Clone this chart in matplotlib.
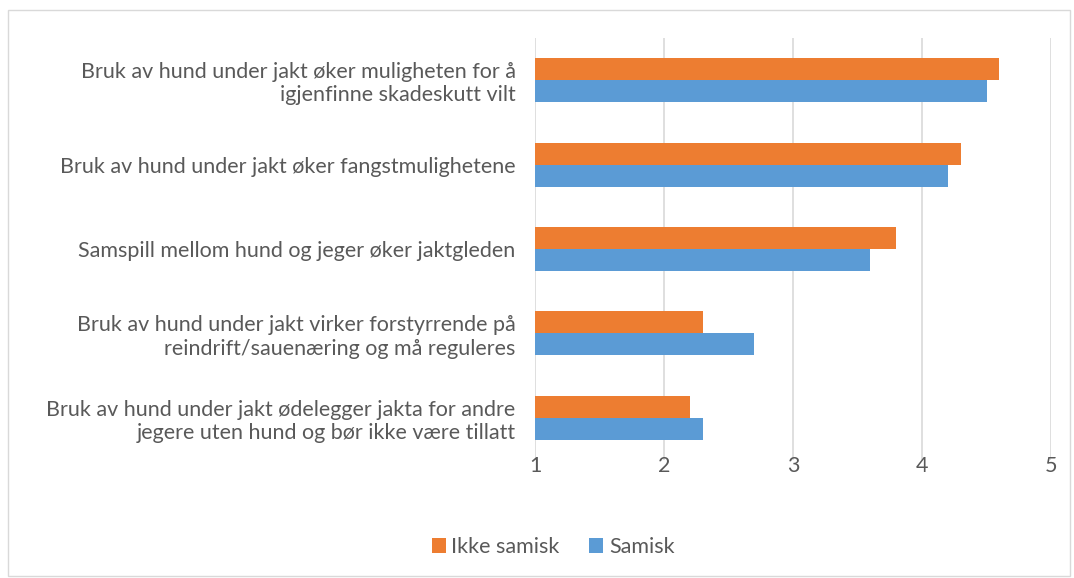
import matplotlib
matplotlib.use("Agg")
import matplotlib.pyplot as plt
import numpy as np
from matplotlib.patches import Rectangle

plt.rcParams['font.family'] = ['Lato', 'DejaVu Sans']

# kategorier (ovenfra og ned)
categories = [
    "Bruk av hund under jakt øker muligheten for å\nigjenfinne skadeskutt vilt",
    "Bruk av hund under jakt øker fangstmulighetene",
    "Samspill mellom hund og jeger øker jaktgleden",
    "Bruk av hund under jakt virker forstyrrende på\nreindrift/sauenæring og må reguleres",
    "Bruk av hund under jakt ødelegger jakta for andre\njegere uten hund og bør ikke være tillatt",
]
ikke_samisk = [4.6, 4.3, 3.8, 2.3, 2.2]
samisk = [4.5, 4.2, 3.6, 2.7, 2.3]
xticks = [1, 2, 3, 4, 5]

grey = '#595959'
fs = 15.5
fig = plt.figure(figsize=(10.74, 5.78), dpi=100)
ax = fig.add_axes([535/1074, 1-460/578, (1051-535)/1074, (460-38)/578])

y = np.arange(len(categories))
h = 0.26
ax.barh(y - h/2, np.array(ikke_samisk) - 1, left=1, height=h, color='#ED7D31', label='Ikke samisk', zorder=3)
ax.barh(y + h/2, np.array(samisk) - 1, left=1, height=h, color='#5B9BD5', label='Samisk', zorder=3)

ax.set_xlim(1, 5)
ax.set_ylim(len(categories) - 0.5, -0.5)
ax.set_xticks(xticks)
ax.set_xticklabels([str(t) for t in xticks], fontsize=fs, color=grey)
ax.set_yticks(y)
ax.set_yticklabels(categories, fontsize=fs, color=grey, linespacing=1.2)
ax.tick_params(axis='x', length=0, pad=-3)
ax.tick_params(axis='y', length=0, pad=14)
ax.xaxis.grid(True, color='#D9D9D9', linewidth=1.2, zorder=0)
for s in ax.spines.values():
    s.set_visible(False)

leg = fig.legend(loc='center', bbox_to_anchor=(553/1074, 1-547/578), ncol=2, frameon=False,
                 fontsize=fs, handlelength=0.65, handleheight=0.65, handletextpad=0.25, columnspacing=1.4)
for t in leg.get_texts():
    t.set_color(grey)

fig.patches.append(Rectangle((8/1074, 2/578), 1062/1074, 566/578, transform=fig.transFigure,
                             fill=False, edgecolor='#D9D9D9', linewidth=1))

fig.savefig('out.png', dpi=100)
